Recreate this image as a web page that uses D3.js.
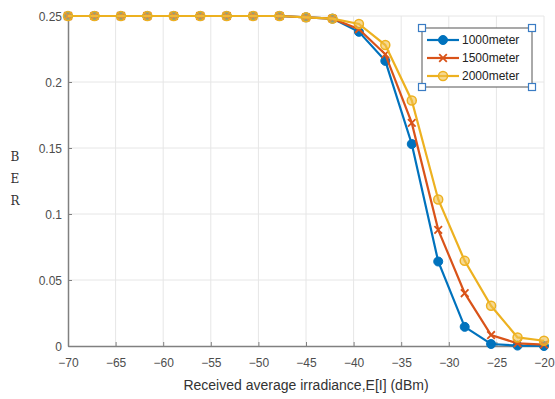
<!DOCTYPE html>
<html lang="en">
<head>
<meta charset="UTF-8">
<title>BER vs received irradiance</title>
<script src="https://d3js.org/d3.v7.min.js"></script>
<style>
    body { margin: 0; background: #fff; font-family: "Liberation Sans", Arial, sans-serif; }
    svg { display: block; }
    .tick text { fill: #4d4d4d; font-size: 12px; font-family: "Liberation Sans", Arial, sans-serif; }
    .ylab { font-family: "DejaVu Serif", "Liberation Serif", serif; font-size: 12px; fill: #333; }
</style>
</head>
<body>
<div id="chart"></div>
<script>
    // 19 sample points, -70 .. -20 dBm
    const irradiance = [-70, -67.22, -64.44, -61.67, -58.89, -56.11, -53.33, -50.56, -47.78,
                        -45, -42.22, -39.44, -36.67, -33.89, -31.11, -28.33, -25.56, -22.78, -20];
    const ber1000 = [0.25, 0.25, 0.25, 0.25, 0.25, 0.25, 0.25, 0.25, 0.25,
                     0.249, 0.248, 0.238, 0.216, 0.153, 0.064, 0.0145, 0.0015, 0.0003, 0];
    const ber1500 = [0.25, 0.25, 0.25, 0.25, 0.25, 0.25, 0.25, 0.25, 0.25,
                     0.249, 0.248, 0.240, 0.221, 0.169, 0.088, 0.040, 0.0083, 0.002, 0.001];
    const ber2000 = [0.25, 0.25, 0.25, 0.25, 0.25, 0.25, 0.25, 0.25, 0.25,
                     0.249, 0.248, 0.244, 0.228, 0.186, 0.111, 0.0645, 0.0305, 0.0065, 0.004];
    const seriesNames = ["1000meter", "1500meter", "2000meter"];
    const xTicks = [-70, -65, -60, -55, -50, -45, -40, -35, -30, -25, -20];
    const yTicks = [0, 0.05, 0.1, 0.15, 0.2, 0.25];

    const width = 555, height = 399;
    const margin = { top: 16, right: 11, bottom: 53, left: 68 };
    const colors = ["#0072BD", "#D95319", "#EDB120"];

    const svg = d3.select("#chart").append("svg").attr("width", width).attr("height", height);

    const x = d3.scaleLinear().domain([-70, -20]).range([margin.left, width - margin.right]);
    const y = d3.scaleLinear().domain([0, 0.25]).range([height - margin.bottom, margin.top]);

    // grid
    svg.append("g").selectAll("line").data(xTicks.slice(1)).enter().append("line")
        .attr("x1", d => x(d)).attr("x2", d => x(d))
        .attr("y1", y(0)).attr("y2", y(0.25))
        .attr("stroke", "#e6e6e6").attr("stroke-width", 1);
    svg.append("g").selectAll("line").data(yTicks.slice(1)).enter().append("line")
        .attr("x1", x(-70)).attr("x2", x(-20))
        .attr("y1", d => y(d)).attr("y2", d => y(d))
        .attr("stroke", "#e6e6e6").attr("stroke-width", 1);

    // axes
    const xAxis = svg.append("g").attr("transform", `translate(0,${y(0)})`)
        .call(d3.axisBottom(x).tickValues(xTicks).tickSizeInner(-4).tickSizeOuter(0).tickPadding(15));
    const yAxis = svg.append("g").attr("transform", `translate(${x(-70)},0)`)
        .call(d3.axisLeft(y).tickValues(yTicks).tickSizeInner(-4).tickSizeOuter(0).tickPadding(6)
            .tickFormat(d => d3.format("")(+d.toFixed(2))));
    [xAxis, yAxis].forEach(a => {
        a.select(".domain").attr("stroke", "#808080").attr("stroke-width", 1.5);
        a.selectAll(".tick line").attr("stroke", "#808080");
    });
    xAxis.selectAll(".tick text").attr("dy", "0.5em");
    yAxis.selectAll(".tick text").attr("dy", "0.35em");

    // axis labels
    svg.append("text")
        .attr("x", (x(-70) + x(-20)) / 2).attr("y", 390)
        .attr("text-anchor", "middle")
        .attr("fill", "#333")
        .style("font-size", "14px")
        .text("Received average irradiance,E[I] (dBm)");
    const yl = svg.append("text").attr("class", "ylab").attr("text-anchor", "middle");
    ["B", "E", "R"].forEach((ch, i) => {
        yl.append("tspan").attr("x", 15).attr("y", 161 + i * 22).text(ch);
    });

    // series
    const allSeries = [ber1000, ber1500, ber2000].map((vals, i) => ({
        name: seriesNames[i],
        color: colors[i],
        points: irradiance.map((v, j) => ({ x: v, y: vals[j] }))
    }));
    const line = d3.line().x(d => x(d.x)).y(d => y(d.y));

    function drawMarker(g, i, cx, cy) {
        const c = colors[i];
        if (i === 0) {
            g.append("circle").attr("cx", cx).attr("cy", cy).attr("r", 4.5).attr("fill", c).attr("stroke", c);
        } else if (i === 1) {
            const s = 3.8;
            g.append("path").attr("d", `M${cx - s},${cy - s}L${cx + s},${cy + s}M${cx - s},${cy + s}L${cx + s},${cy - s}`)
                .attr("stroke", c).attr("stroke-width", 1.8).attr("fill", "none");
        } else {
            g.append("circle").attr("cx", cx).attr("cy", cy).attr("r", 4.5)
                .attr("fill", "#f0c04a").attr("fill-opacity", 0.6).attr("stroke", c).attr("stroke-width", 1.5);
        }
    }

    allSeries.forEach((s, i) => {
        svg.append("path").datum(s.points)
            .attr("d", line).attr("fill", "none")
            .attr("stroke", s.color).attr("stroke-width", 2.2);
        const g = svg.append("g");
        s.points.forEach(p => drawMarker(g, i, x(p.x), y(p.y)));
    });

    // legend
    const lg = svg.append("g");
    const lx0 = 422, ly0 = 28, lw = 110, lh = 59;
    lg.append("rect").attr("x", lx0).attr("y", ly0).attr("width", lw).attr("height", lh)
        .attr("fill", "#fff").attr("stroke", "#555").attr("stroke-width", 1);
    seriesNames.forEach((name, i) => {
        const yy = ly0 + 12 + i * 18;
        lg.append("line").attr("x1", lx0 + 5).attr("x2", lx0 + 37).attr("y1", yy).attr("y2", yy)
            .attr("stroke", colors[i]).attr("stroke-width", 2.2);
        drawMarker(lg, i, lx0 + 21, yy);
        lg.append("text").attr("x", lx0 + 40).attr("y", yy).attr("dy", "0.35em")
            .attr("fill", "#222").style("font-size", "12px").text(name);
    });
    [[lx0, ly0], [lx0 + lw, ly0], [lx0, ly0 + lh], [lx0 + lw, ly0 + lh]].forEach(([hx, hy]) => {
        lg.append("rect").attr("x", hx - 3.5).attr("y", hy - 3.5).attr("width", 7).attr("height", 7)
            .attr("fill", "#fff").attr("stroke", "#3a7cc4").attr("stroke-width", 1.2);
    });
</script>
</body>
</html>
